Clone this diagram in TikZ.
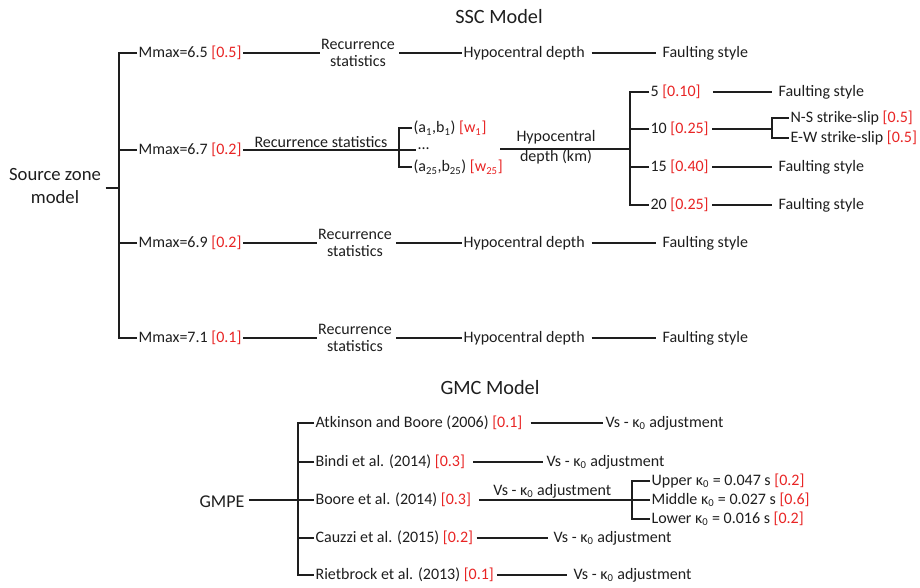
\documentclass[tikz,border=0pt]{standalone}
\usepackage{fontspec}
\setmainfont{Carlito}
\definecolor{wred}{RGB}{232,36,36}
\definecolor{ink}{RGB}{30,30,30}
\newcommand{\wt}[1]{\textcolor{wred}{[#1]}}
\tikzset{
  lbl/.style={anchor=west, inner sep=1pt, text=ink, font=\fontsize{12}{13}\selectfont},
  ctr/.style={align=center, inner sep=1pt, text=ink, font=\fontsize{12}{12.4}\selectfont},
  ttl/.style={text=ink, font=\fontsize{15.2}{17}\selectfont},
  ln/.style={draw=ink, line width=0.9pt}
}
\begin{document}
\begin{tikzpicture}[x=0.75pt, y=-0.75pt]
\useasboundingbox (0,0) rectangle (920,587);
%titles
\node[ttl] (ssc) at (499,17) {SSC Model};
\node[ttl] (gmc) at (490,388) {GMC Model};
%source zone and magnitudes
\node[ttl, align=center, font=\fontsize{14}{17}\selectfont] (src) at (55,186) {Source zone\\model};
\coordinate (sj) at (119,188);
\node[lbl] (m1) at (137,53) {Mmax=6.5 \wt{0.5}};
\node[lbl] (m2) at (137,150) {Mmax=6.7 \wt{0.2}};
\node[lbl] (m3) at (137,243) {Mmax=6.9 \wt{0.2}};
\node[lbl] (m4) at (137,338) {Mmax=7.1 \wt{0.1}};
\draw[ln] (src.east |- sj) -- (sj);
\draw[ln] (m1.west) -| (sj) |- (m4.west);
\draw[ln] (m2.west) -- (m2.west -| sj);
\draw[ln] (m3.west) -- (m3.west -| sj);
%plain branches
\foreach \i/\y/\c in {1/53/358,3/243/355,4/338/355}{
  \node[ctr] (r\i) at (\c,\y) {Recurrence\\statistics};
  \node[lbl] (h\i) at (462,\y) {Hypocentral depth};
  \node[lbl] (f\i) at (661,\y) {Faulting style};
  \draw[ln] (m\i.east) -- (r\i.west);
  \draw[ln, shorten <=2pt] (r\i.east) -- (h\i.west);
  \draw[ln, shorten <=4pt, shorten >=4pt] (h\i.east) -- (f\i.west);
}
%recurrence statistics branch
\coordinate (rj) at (399,150);
\draw[ln] (m2.east) -- node[ctr, above=0pt] (rs) {Recurrence statistics} (rj);
\node[lbl] (ab1) at (412,128) {(a\textsubscript{1},b\textsubscript{1}) \wt{w\textsubscript{1}}};
\node[lbl] (abd) at (416,149) {...};
\node[lbl] (ab25) at (412,167) {(a\textsubscript{25},b\textsubscript{25}) \wt{w\textsubscript{25}}};
\draw[ln] (ab1.west) -| (rj) |- (ab25.west);
\draw[ln] (rj) -- (rj -| abd.west);
%hypocentral depth branch
\coordinate (hs) at (500,149);
\coordinate (hj) at (630,149);
\draw[ln] (hs) -- (hj);
\node[ctr, align=center, font=\fontsize{12}{15}\selectfont] (hd) at (556,147) {Hypocentral\\depth (km)};
\node[lbl] (d1) at (649,92) {5 \wt{0.10}};
\node[lbl] (d2) at (649,129) {10 \wt{0.25}};
\node[lbl] (d3) at (649,167) {15 \wt{0.40}};
\node[lbl] (d4) at (649,205) {20 \wt{0.25}};
\draw[ln] (d1.west) -| (hj) |- (d4.west);
\draw[ln] (d2.west) -- (d2.west -| hj);
\draw[ln] (d3.west) -- (d3.west -| hj);
\foreach \i/\s in {1/8pt,3/1.5pt,4/1.5pt}{
  \node[lbl] (fd\i) at (d\i.west -| 777,0) {Faulting style};
  \draw[ln, shorten <=\s, shorten >=4pt] (d\i.east) -- (fd\i.west);
}
%strike-slip split
\coordinate (nj) at (772,129);
\node[lbl] (ns) at (789,118) {N-S strike-slip \wt{0.5}};
\node[lbl] (ew) at (789,138) {E-W strike-slip \wt{0.5}};
\draw[ln, shorten <=1.5pt] (d2.east) -- (nj);
\draw[ln] (ns.west) -| (nj) |- (ew.west);
%GMPE
\node[ttl, font=\fontsize{13.5}{15}\selectfont] (gm) at (222,502) {GMPE};
\coordinate (gj) at (298,500);
\node[lbl] (g1) at (314,423) {Atkinson and Boore (2006) \wt{0.1}};
\node[lbl] (g2) at (314,462) {Bindi et al. (2014) \wt{0.3}};
\node[lbl] (g3) at (314,500) {Boore et al. (2014) \wt{0.3}};
\node[lbl] (g4) at (314,538) {Cauzzi et al. (2015) \wt{0.2}};
\node[lbl] (g5) at (314,575) {Rietbrock et al. (2013) \wt{0.1}};
\draw[ln] (gm.east |- gj) -- (gj);
\draw[ln] (g1.west) -| (gj) |- (g5.west);
\draw[ln] (g2.west) -- (g2.west -| gj);
\draw[ln] (g3.west) -- (gj);
\draw[ln] (g4.west) -- (g4.west -| gj);
\node[lbl] (v1) at (604,423) {Vs - κ\textsubscript{0} adjustment};
\node[lbl] (v2) at (545,462) {Vs - κ\textsubscript{0} adjustment};
\node[lbl] (v4) at (552,538) {Vs - κ\textsubscript{0} adjustment};
\node[lbl] (v5) at (572,575) {Vs - κ\textsubscript{0} adjustment};
\foreach \i/\a/\b in {1/5pt/1pt,2/5pt/1.5pt,4/1.5pt/3pt,5/1pt/4pt}{
  \draw[ln, shorten <=\a, shorten >=\b] (g\i.east) -- (v\i.west);
}
%kappa split
\coordinate (kj) at (632,500);
\draw[ln, shorten <=5pt] (g3.east) -- node[ctr, above=0pt] (v3) {Vs - κ\textsubscript{0} adjustment} (kj);
\node[lbl] (k1) at (650,481) {Upper κ\textsubscript{0} = 0.047 s \wt{0.2}};
\node[lbl] (k2) at (650,500) {Middle κ\textsubscript{0} = 0.027 s \wt{0.6}};
\node[lbl] (k3) at (650,519) {Lower κ\textsubscript{0} = 0.016 s \wt{0.2}};
\draw[ln] (k1.west) -| (kj) |- (k3.west);
\draw[ln] (kj) -- (k2.west);
\end{tikzpicture}
\end{document}
